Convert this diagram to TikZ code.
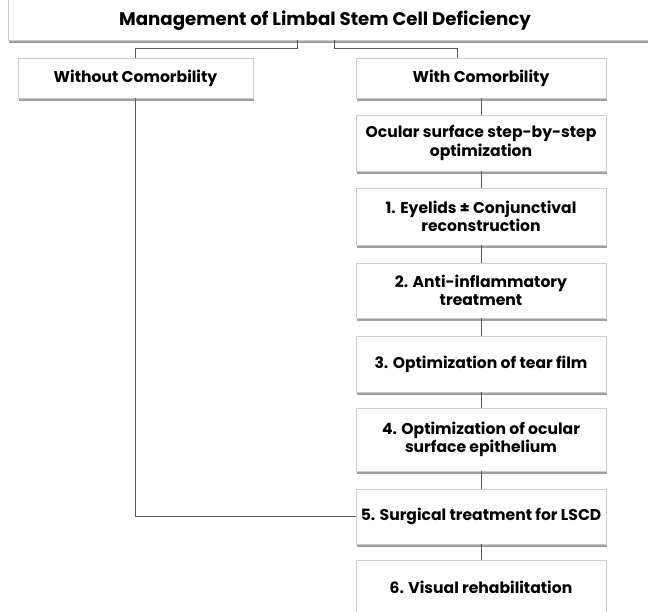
\documentclass[tikz,border=0pt]{standalone}
\usepackage{fontspec}
\setmainfont{Poppins}
\usetikzlibrary{shadows}

\begin{document}
\begin{tikzpicture}[x=1pt,y=-1pt,
        stepbox/.style={draw=gray!40,fill=white,minimum width=250,inner sep=0pt,align=center,
            font=\bfseries\fontsize{15.6}{18.5}\selectfont,
            drop shadow={shadow xshift=1pt,shadow yshift=-2.5pt,fill=gray!75,opacity=1}},
        titlebox/.style={draw=gray!40,fill=white,
            drop shadow={shadow xshift=1pt,shadow yshift=-2.5pt,fill=gray!75,opacity=1}},
        link/.style={draw=black!65,line width=1pt}]
    \useasboundingbox (0,0) rectangle (648,611);
    \clip (0,0) rectangle (648,611);

    \draw[titlebox] (8,-20) rectangle (700,40);
    \node[font=\bfseries\fontsize{18.2}{22}\selectfont] (title) at (325,21) {Management of Limbal Stem Cell Deficiency};
    \coordinate (split left) at (297,40);
    \coordinate (split right) at (334,40);

    \node[stepbox,minimum width=235,minimum height=40] (without) at (135.5,78) {Without Comorbility};
    \node[stepbox,minimum height=40] (with) at (481,78) {With Comorbility};
    \node[stepbox,minimum height=56] (ocular) at (481,143) {Ocular surface step-by-step\\optimization};
    \node[stepbox,minimum height=57] (eyelids) at (481,216.5) {1. Eyelids ± Conjunctival\\reconstruction};
    \node[stepbox,minimum height=55] (antiinfl) at (481,290.5) {2. Anti-inflammatory\\treatment};
    \node[stepbox,minimum height=56] (tearfilm) at (481,364) {3. Optimization of tear film};
    \node[stepbox,minimum height=63] (epithelium) at (481,439.5) {4. Optimization of ocular\\surface epithelium};
    \node[stepbox,minimum height=55] (surgery) at (481,516.5) {5. Surgical treatment for LSCD};
    \node[stepbox,minimum height=54] (visual) at (481,587) {6. Visual rehabilitation};

    \draw[link] (split left) -- ++(0,8) -| (without.north);
    \draw[link] (split right) -- ++(0,8) -| ([xshift=-24]with.north);
    \foreach \a/\b in {with/ocular,ocular/eyelids,eyelids/antiinfl,antiinfl/tearfilm,
            tearfilm/epithelium,epithelium/surgery,surgery/visual}
        \draw[link] (\a) -- (\b);
    \draw[link] (without.south) |- (surgery.west);
\end{tikzpicture}
\end{document}
